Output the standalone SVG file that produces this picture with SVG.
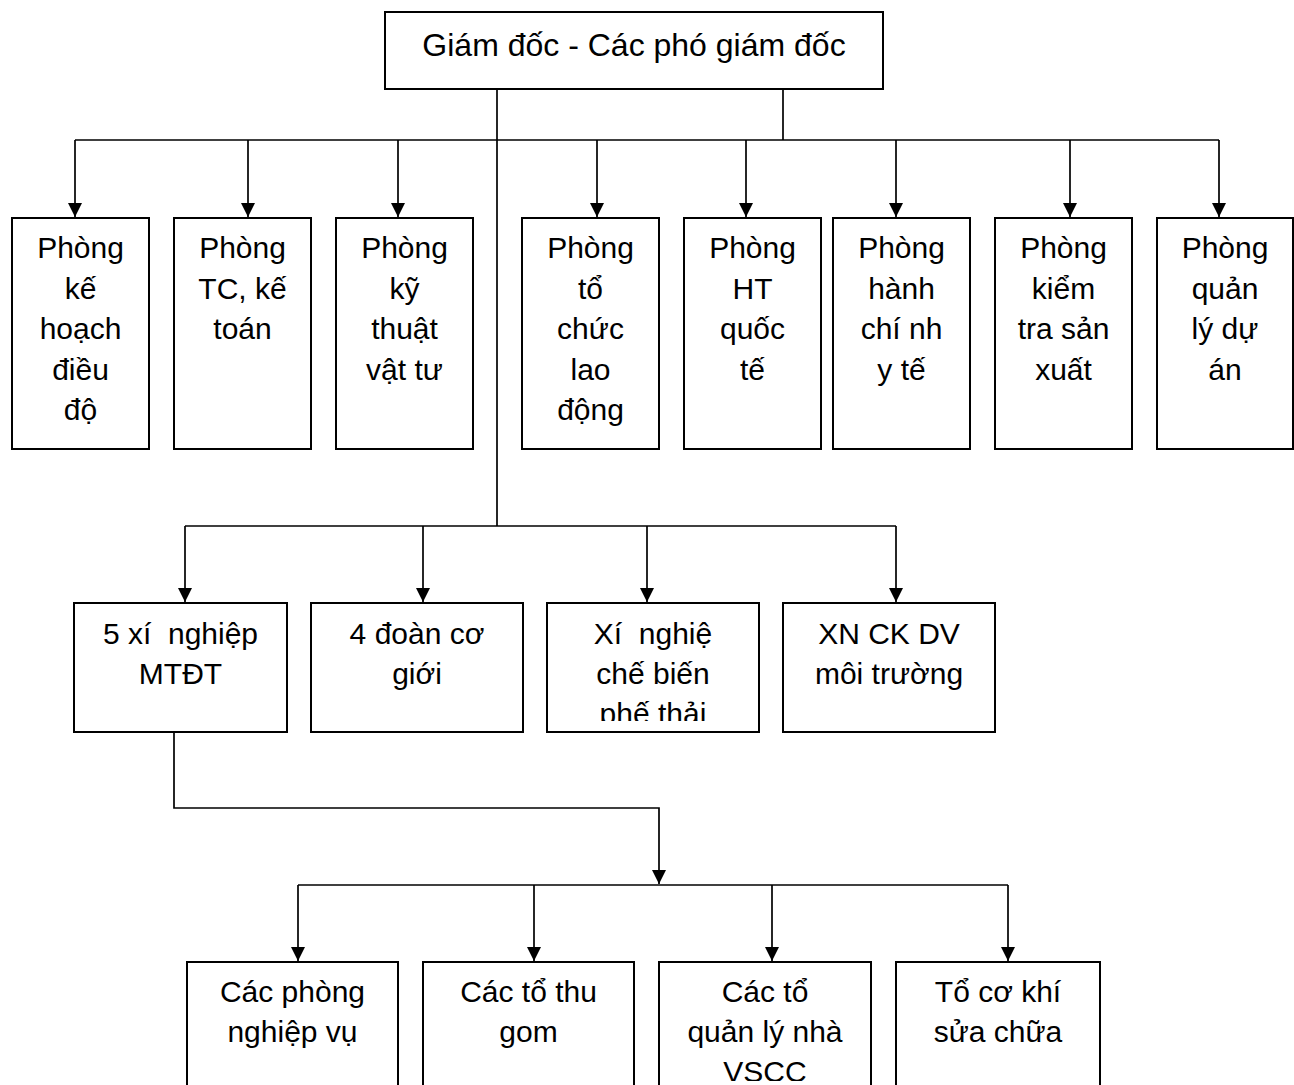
<svg xmlns="http://www.w3.org/2000/svg" width="1294" height="1085" viewBox="0 0 1294 1085">
  <style>
    .box { fill: #ffffff; stroke: #000000; stroke-width: 2; }
    .lbl { font-family: "Liberation Sans", Arial, sans-serif; font-size: 30px; fill: #000000; text-anchor: middle; white-space: pre; }
    .ttl { font-size: 32px; }
    .wire { fill: none; stroke: #000000; stroke-width: 1.7; }
    .arr { fill: none; stroke: #000000; stroke-width: 1.7; marker-end: url(#head); }
  </style>
  <defs>
    <marker id="head" viewBox="0 0 14 14" refX="14" refY="7" markerWidth="14" markerHeight="14" orient="auto" markerUnits="userSpaceOnUse">
      <path d="M0,0 L14,7 L0,14 Z" fill="#000000"/>
    </marker>
    <clipPath id="clipC"><rect x="547" y="603" width="212" height="118"/></clipPath>
    <clipPath id="clipG"><rect x="659" y="962" width="212" height="119"/></clipPath>
  </defs>

  <rect width="1294" height="1085" fill="#ffffff"/>

  <!-- connectors -->
  <g id="connectors">
    <!-- director to departments -->
    <line class="wire" x1="497" y1="89" x2="497" y2="526"/>
    <line class="wire" x1="783" y1="89" x2="783" y2="140"/>
    <line class="wire" x1="75" y1="140" x2="1219" y2="140"/>
    <line class="arr" x1="75" y1="140" x2="75" y2="217"/>
    <line class="arr" x1="248" y1="140" x2="248" y2="217"/>
    <line class="arr" x1="398" y1="140" x2="398" y2="217"/>
    <line class="arr" x1="597" y1="140" x2="597" y2="217"/>
    <line class="arr" x1="746" y1="140" x2="746" y2="217"/>
    <line class="arr" x1="896" y1="140" x2="896" y2="217"/>
    <line class="arr" x1="1070" y1="140" x2="1070" y2="217"/>
    <line class="arr" x1="1219" y1="140" x2="1219" y2="217"/>
    <!-- director to enterprises -->
    <line class="wire" x1="185" y1="526" x2="896" y2="526"/>
    <line class="arr" x1="185" y1="526" x2="185" y2="602"/>
    <line class="arr" x1="423" y1="526" x2="423" y2="602"/>
    <line class="arr" x1="647" y1="526" x2="647" y2="602"/>
    <line class="arr" x1="896" y1="526" x2="896" y2="602"/>
    <!-- enterprise to teams -->
    <polyline class="arr" points="174,732 174,808 659,808 659,884"/>
    <line class="wire" x1="298" y1="885" x2="1008" y2="885"/>
    <line class="arr" x1="298" y1="885" x2="298" y2="961"/>
    <line class="arr" x1="534" y1="885" x2="534" y2="961"/>
    <line class="arr" x1="772" y1="885" x2="772" y2="961"/>
    <line class="arr" x1="1008" y1="885" x2="1008" y2="961"/>
  </g>

  <!-- top management -->
  <g id="director">
    <rect class="box" x="385" y="12" width="498" height="77"/>
    <text class="lbl ttl" x="634" y="56">Giám đốc - Các phó giám đốc</text>
  </g>

  <!-- departments -->
  <g id="dept-planning">
    <rect class="box" x="12" y="218" width="137" height="231"/>
    <text class="lbl" x="80.5" y="258">Phòng</text>
    <text class="lbl" x="80.5" y="298.5">kế</text>
    <text class="lbl" x="80.5" y="339">hoạch</text>
    <text class="lbl" x="80.5" y="379.5">điều</text>
    <text class="lbl" x="80.5" y="420">độ</text>
  </g>
  <g id="dept-finance">
    <rect class="box" x="174" y="218" width="137" height="231"/>
    <text class="lbl" x="242.5" y="258">Phòng</text>
    <text class="lbl" x="242.5" y="298.5">TC, kế</text>
    <text class="lbl" x="242.5" y="339">toán</text>
  </g>
  <g id="dept-technical">
    <rect class="box" x="336" y="218" width="137" height="231"/>
    <text class="lbl" x="404.5" y="258">Phòng</text>
    <text class="lbl" x="404.5" y="298.5">kỹ</text>
    <text class="lbl" x="404.5" y="339">thuật</text>
    <text class="lbl" x="404.5" y="379.5">vật tư</text>
  </g>
  <g id="dept-labour">
    <rect class="box" x="522" y="218" width="137" height="231"/>
    <text class="lbl" x="590.5" y="258">Phòng</text>
    <text class="lbl" x="590.5" y="298.5">tổ</text>
    <text class="lbl" x="590.5" y="339">chức</text>
    <text class="lbl" x="590.5" y="379.5">lao</text>
    <text class="lbl" x="590.5" y="420">động</text>
  </g>
  <g id="dept-international">
    <rect class="box" x="684" y="218" width="137" height="231"/>
    <text class="lbl" x="752.5" y="258">Phòng</text>
    <text class="lbl" x="752.5" y="298.5">HT</text>
    <text class="lbl" x="752.5" y="339">quốc</text>
    <text class="lbl" x="752.5" y="379.5">tế</text>
  </g>
  <g id="dept-admin">
    <rect class="box" x="833" y="218" width="137" height="231"/>
    <text class="lbl" x="901.5" y="258">Phòng</text>
    <text class="lbl" x="901.5" y="298.5">hành</text>
    <text class="lbl" x="901.5" y="339">chí nh</text>
    <text class="lbl" x="901.5" y="379.5">y tế</text>
  </g>
  <g id="dept-inspection">
    <rect class="box" x="995" y="218" width="137" height="231"/>
    <text class="lbl" x="1063.5" y="258">Phòng</text>
    <text class="lbl" x="1063.5" y="298.5">kiểm</text>
    <text class="lbl" x="1063.5" y="339">tra sản</text>
    <text class="lbl" x="1063.5" y="379.5">xuất</text>
  </g>
  <g id="dept-projects">
    <rect class="box" x="1157" y="218" width="136" height="231"/>
    <text class="lbl" x="1225" y="258">Phòng</text>
    <text class="lbl" x="1225" y="298.5">quản</text>
    <text class="lbl" x="1225" y="339">lý dự</text>
    <text class="lbl" x="1225" y="379.5">án</text>
  </g>

  <!-- enterprises -->
  <g id="ent-mtdt">
    <rect class="box" x="74" y="603" width="213" height="129"/>
    <text class="lbl" x="180.5" y="644">5 xí  nghiệp</text>
    <text class="lbl" x="180.5" y="684">MTĐT</text>
  </g>
  <g id="ent-mechanised">
    <rect class="box" x="311" y="603" width="212" height="129"/>
    <text class="lbl" x="417" y="644">4 đoàn cơ</text>
    <text class="lbl" x="417" y="684">giới</text>
  </g>
  <g id="ent-processing">
    <rect class="box" x="547" y="603" width="212" height="129"/>
    <g clip-path="url(#clipC)">
      <text class="lbl" x="653" y="644">Xí  nghiệ</text>
      <text class="lbl" x="653" y="684">chế biến</text>
      <text class="lbl" x="653" y="724">phế thải</text>
    </g>
  </g>
  <g id="ent-services">
    <rect class="box" x="783" y="603" width="212" height="129"/>
    <text class="lbl" x="889" y="644">XN CK DV</text>
    <text class="lbl" x="889" y="684">môi trường</text>
  </g>

  <!-- teams -->
  <g id="team-offices">
    <rect class="box" x="187" y="962" width="211" height="150"/>
    <text class="lbl" x="292.5" y="1002">Các phòng</text>
    <text class="lbl" x="292.5" y="1042">nghiệp vụ</text>
  </g>
  <g id="team-collection">
    <rect class="box" x="423" y="962" width="211" height="150"/>
    <text class="lbl" x="528.5" y="1002">Các tổ thu</text>
    <text class="lbl" x="528.5" y="1042">gom</text>
  </g>
  <g id="team-toilets">
    <rect class="box" x="659" y="962" width="212" height="150"/>
    <g clip-path="url(#clipG)">
      <text class="lbl" x="765" y="1002">Các tổ</text>
      <text class="lbl" x="765" y="1042">quản lý nhà</text>
      <text class="lbl" x="765" y="1082">VSCC</text>
    </g>
  </g>
  <g id="team-repair">
    <rect class="box" x="896" y="962" width="204" height="150"/>
    <text class="lbl" x="998" y="1002">Tổ cơ khí</text>
    <text class="lbl" x="998" y="1042">sửa chữa</text>
  </g>
</svg>
